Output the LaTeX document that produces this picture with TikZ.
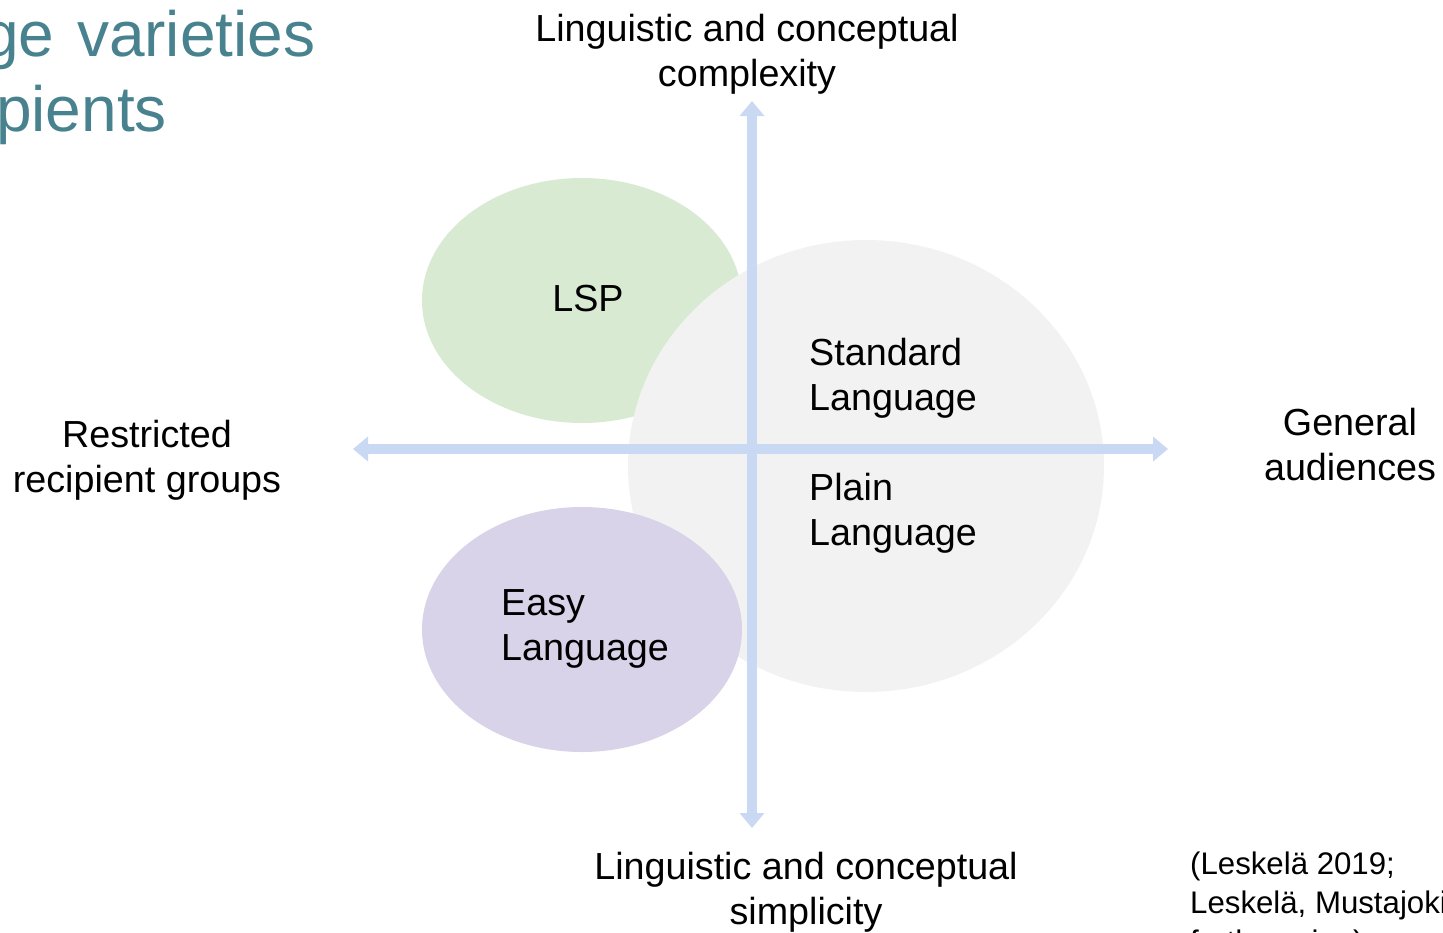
\documentclass[tikz,border=0pt]{standalone}
\usepackage{fontspec}
\setmainfont{Liberation Sans}
\usepackage{tikz}
\usetikzlibrary{arrows.meta}

\definecolor{lspgreen}{HTML}{D9EAD3}
\definecolor{stdgrey}{HTML}{F2F2F2}
\definecolor{easypurple}{HTML}{D9D3E9}
\definecolor{axisblue}{HTML}{C9D9F4}
\definecolor{titleteal}{HTML}{48828F}

\newcommand{\labelfont}{\fontsize{37.7}{45}\selectfont}
\newcommand{\citefont}{\fontsize{31.2}{39}\selectfont}
\newcommand{\titlefont}{\fontsize{64}{76}\selectfont}

\begin{document}
\begin{tikzpicture}[x=1pt, y=-1pt,
    axis/.style={color=axisblue, line width=10pt, {Triangle[width=24pt,length=15pt]}-{Triangle[width=24pt,length=15pt]}},
    lbl/.style={font=\labelfont, align=center, inner sep=0pt},
    lbltext/.style={font=\labelfont, align=left, inner sep=0pt, anchor=west},
    title/.style={font=\titlefont, text=titleteal, inner sep=0pt, anchor=base west},
    cite/.style={font=\citefont, align=left, inner sep=0pt, anchor=north west}]
    \useasboundingbox (0,0) rectangle (1443,932);
    \clip (0,0) rectangle (1443,932);

    % draw title
    \node[title] (title1) at (-17,56) {ge\hspace{5pt} varieties};
    \node[title] (title2) at (-4,131) {pients};

    % draw circles
    \fill[lspgreen] (582,300.5) ellipse (160 and 122.5);
    \fill[stdgrey] (866,466) ellipse (238 and 226);
    \fill[easypurple] (582,629.5) ellipse (160 and 122.5);

    % draw axes
    \coordinate (west) at (353,449);
    \coordinate (east) at (1168,449);
    \coordinate (north) at (752,101);
    \coordinate (south) at (752,828);
    \draw[axis] (west) -- (east);
    \draw[axis] (south) -- (north);

    % draw labels
    \node[lbl] (lsp) at (588,299) {LSP};
    \node[lbltext] (standard) at (809,378) {Standard\\Language};
    \node[lbltext] (plain) at (809,513) {Plain\\Language};
    \node[lbltext] (easy) at (501,628.5) {Easy\\Language};
    \node[lbl] (complexity) at (747,54) {Linguistic and conceptual\\complexity};
    \node[lbl] (simplicity) at (806,892) {Linguistic and conceptual\\simplicity};
    \node[lbl] (restricted) at (147,460) {Restricted\\recipient groups};
    \node[lbl] (general) at (1350,445) {General\\audiences};
    \node[cite] (source) at (1190,852) {(Leskelä 2019;\\Leskelä, Mustajoki\\forthcoming)};
\end{tikzpicture}
\end{document}
